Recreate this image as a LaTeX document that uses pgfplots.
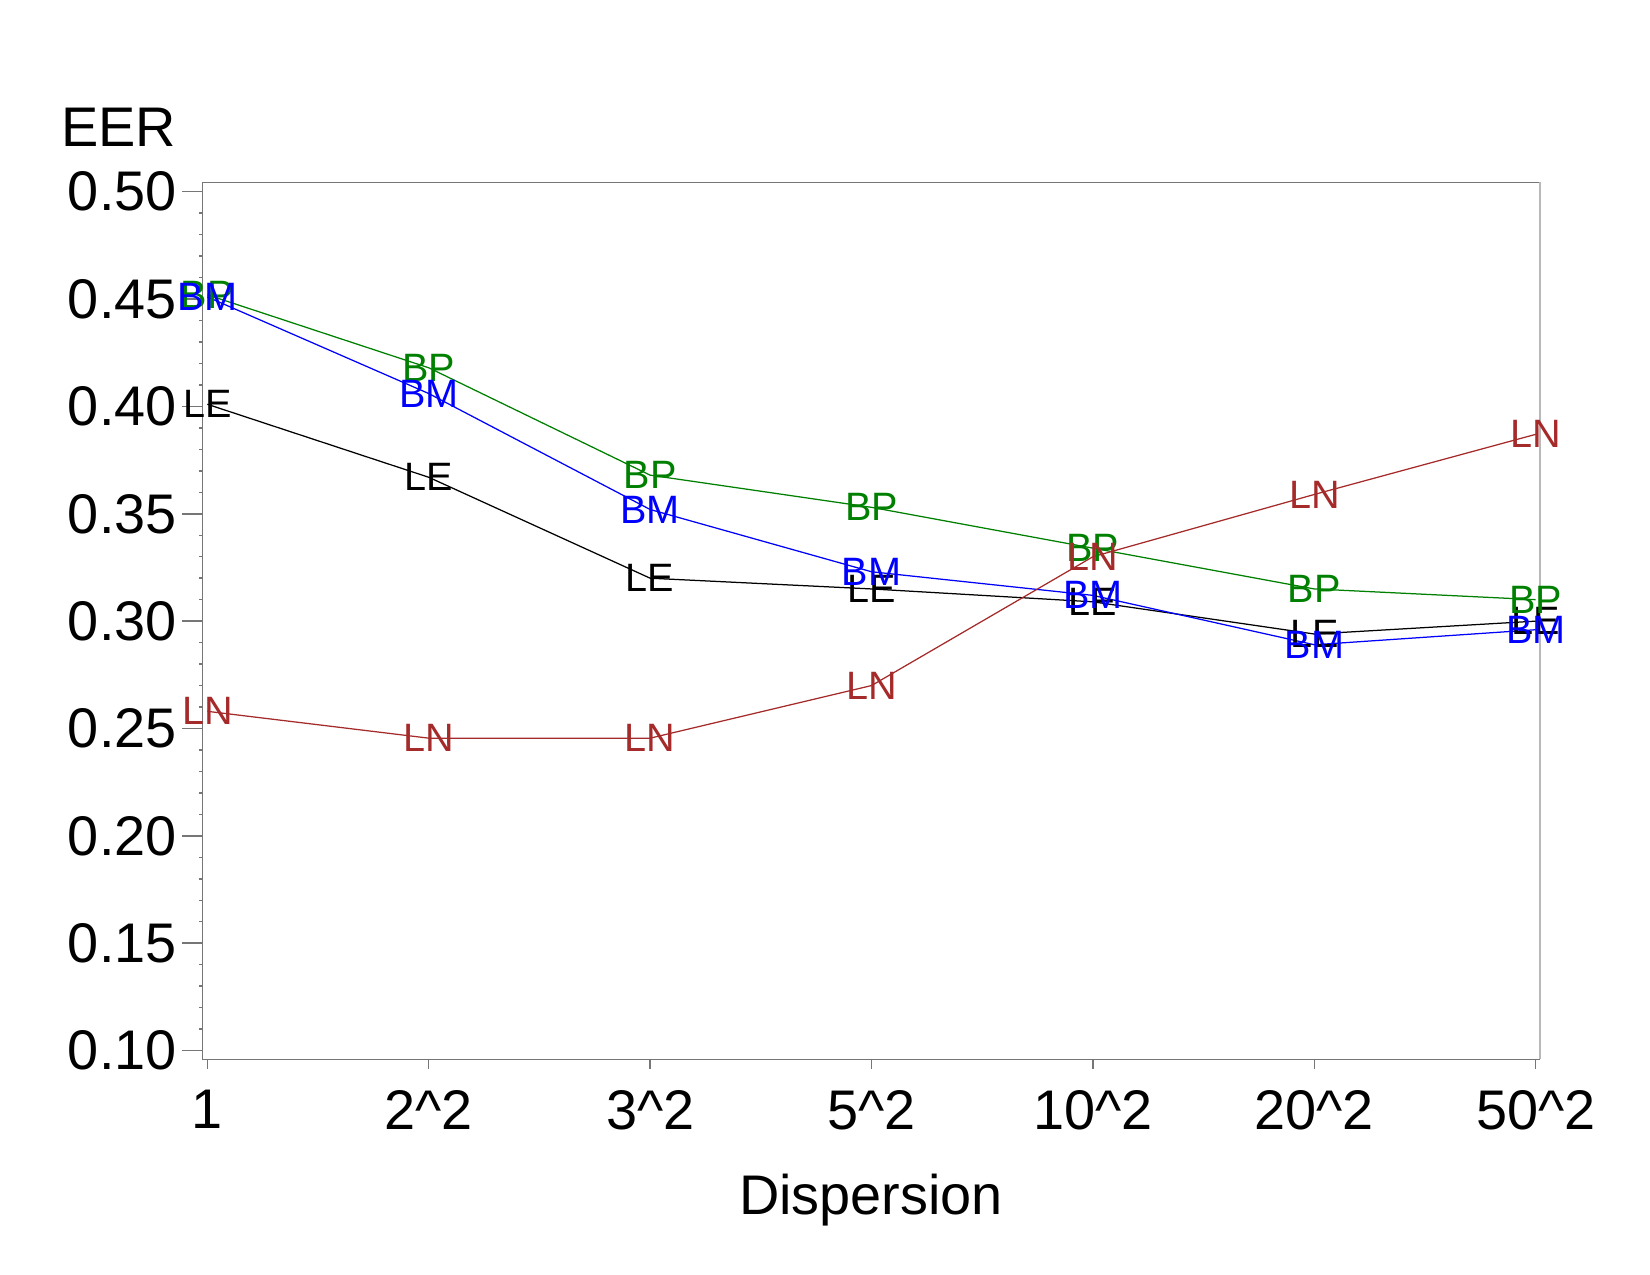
\documentclass[border=0pt]{standalone}
\usepackage{fontspec}
\setmainfont{Liberation Sans}
\usepackage{pgfplots}
\pgfplotsset{compat=1.18}

\definecolor{cLE}{RGB}{0,0,0}
\definecolor{cBP}{RGB}{0,128,0}
\definecolor{cBM}{RGB}{0,0,255}
\definecolor{cLN}{RGB}{165,42,42}
\definecolor{frame}{RGB}{118,118,118}
\definecolor{frameright}{RGB}{185,185,185}

\newcommand{\bigfont}{\fontsize{26.8}{30}\selectfont}
\newcommand{\markfont}{\fontsize{19}{22}\selectfont}

\begin{document}
\begin{tikzpicture}
\begin{axis}[
  name=ax,
  scale only axis,
  width=641.9pt, height=421.0pt,
  xmin=-0.023, xmax=6.0175,
  ymin=0.0959, ymax=0.5044,
  clip=false,
  axis line style={draw=frame, line width=0.7pt},
  tick style={draw=frame, line width=0.7pt},
  tick align=outside,
  major tick length=9.6pt,
  minor tick length=1.6pt,
  xtick={0,1,2,3,4,5,6},
  xticklabels={1, 2\textasciicircum 2, 3\textasciicircum 2, 5\textasciicircum 2, 10\textasciicircum 2, 20\textasciicircum 2, 50\textasciicircum 2},
  x tick style={draw=none},
  xtick pos=bottom,
  ytick={0.10,0.15,0.20,0.25,0.30,0.35,0.40,0.45,0.50},
  minor y tick num=4,
  ytick pos=left,
  /pgf/number format/assume math mode=true,
  yticklabel={\pgfmathprintnumber[fixed, fixed zerofill, precision=2]{\tick}},
  ticklabel style={font=\bigfont, inner sep=0pt},
  yticklabel style={anchor=east, xshift=-2.5pt},
  xticklabel style={anchor=north, yshift=-5pt},
  xlabel={Dispersion},
  xlabel style={font=\bigfont, inner sep=0pt, at={(rel axis cs:0.5,0)}, anchor=base, yshift=-74.5pt},
  every node near coord/.append style={anchor=center, inner sep=0pt, font=\markfont},
]

% LE
\addplot[cLE, line width=0.6pt, mark=none,
  nodes near coords={LE}, every node near coord/.append style={text=cLE}]
  coordinates {(0,0.401) (1,0.367) (2,0.320) (3,0.315) (4,0.309) (5,0.294) (6,0.300)};

% BP
\addplot[cBP, line width=0.6pt, mark=none,
  nodes near coords={BP}, every node near coord/.append style={text=cBP}]
  coordinates {(0,0.452) (1,0.418) (2,0.368) (3,0.353) (4,0.334) (5,0.315) (6,0.310)};

% BM
\addplot[cBM, line width=0.6pt, mark=none,
  nodes near coords={BM}, every node near coord/.append style={text=cBM}]
  coordinates {(0,0.451) (1,0.406) (2,0.352) (3,0.323) (4,0.312) (5,0.289) (6,0.296)};

% LN
\addplot[cLN, line width=0.6pt, mark=none,
  nodes near coords={LN}, every node near coord/.append style={text=cLN}]
  coordinates {(0,0.258) (1,0.2455) (2,0.2455) (3,0.270) (4,0.330) (5,0.359) (6,0.387)};

% short outward ticks on the category axis
\draw[frame, line width=0.7pt] (axis cs:0,0.0959) -- ([yshift=-4.5pt]axis cs:0,0.0959);
\draw[frame, line width=0.7pt] (axis cs:1,0.0959) -- ([yshift=-4.5pt]axis cs:1,0.0959);
\draw[frame, line width=0.7pt] (axis cs:2,0.0959) -- ([yshift=-4.5pt]axis cs:2,0.0959);
\draw[frame, line width=0.7pt] (axis cs:3,0.0959) -- ([yshift=-4.5pt]axis cs:3,0.0959);
\draw[frame, line width=0.7pt] (axis cs:4,0.0959) -- ([yshift=-4.5pt]axis cs:4,0.0959);
\draw[frame, line width=0.7pt] (axis cs:5,0.0959) -- ([yshift=-4.5pt]axis cs:5,0.0959);
\draw[frame, line width=0.7pt] (axis cs:6,0.0959) -- ([yshift=-4.5pt]axis cs:6,0.0959);

\draw[frameright, line width=1pt] (rel axis cs:1,0) -- (rel axis cs:1,1);
\node[anchor=base west, inner sep=0pt, font=\bigfont] at ([xshift=-68pt, yshift=17.1pt]rel axis cs:0,1) {EER};
\end{axis}
\pgfresetboundingbox
\path[use as bounding box] (-97.1pt,-103.5pt) rectangle (694.9pt,508.5pt);
\end{tikzpicture}
\end{document}
